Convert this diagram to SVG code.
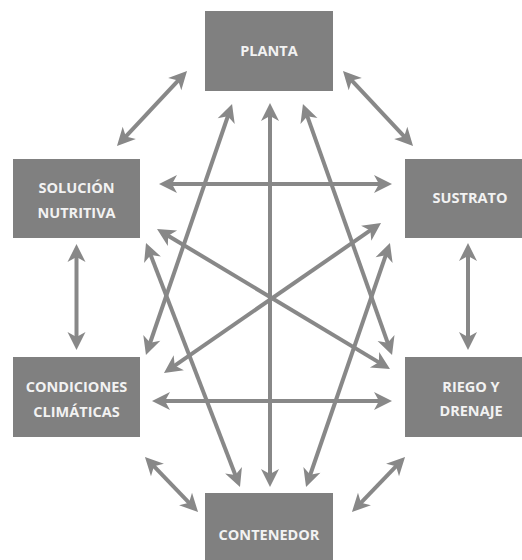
<svg xmlns="http://www.w3.org/2000/svg" width="522" height="560" viewBox="0 0 522 560">
<defs>
<marker id="ah" markerUnits="userSpaceOnUse" markerWidth="30" markerHeight="30" refX="0" refY="0" orient="auto-start-reverse" overflow="visible">
<path d="M10,0 L-8,-9 L-3,0 L-8,9 Z" fill="#888888"/>
</marker>
</defs>
<style>
.box{fill:#808080}
.lbl{font-family:"Open Sans","Liberation Sans",sans-serif;font-weight:bold;font-size:14.5px;fill:#f2f2f2;text-anchor:middle}
.c{stroke:#888888;stroke-width:4;fill:none;marker-start:url(#ah);marker-end:url(#ah)}
</style>
<rect width="522" height="560" fill="#ffffff"/>
<g id="connectors">
<line class="c" x1="180.2" y1="78.3" x2="123.8" y2="138.7"/>
<line class="c" x1="349.8" y1="78.3" x2="406.2" y2="138.7"/>
<line class="c" x1="76.5" y1="254" x2="76.5" y2="340"/>
<line class="c" x1="468" y1="253" x2="468" y2="340"/>
<line class="c" x1="151.9" y1="464.2" x2="191.1" y2="504.8"/>
<line class="c" x1="398.1" y1="464.2" x2="358.9" y2="504.8"/>
<line class="c" x1="169" y1="184" x2="382" y2="184"/>
<line class="c" x1="162" y1="401" x2="382" y2="401"/>
<line class="c" x1="270" y1="113" x2="270" y2="477"/>
<line class="c" x1="228.8" y1="113.5" x2="149.2" y2="345.5"/>
<line class="c" x1="306.3" y1="113.4" x2="388.7" y2="345.6"/>
<line class="c" x1="149.6" y1="252.3" x2="236.4" y2="477.7"/>
<line class="c" x1="386.7" y1="252.5" x2="309.3" y2="477.5"/>
<line class="c" x1="165.6" y1="234.2" x2="381.4" y2="363.9"/>
<line class="c" x1="372.8" y1="228.7" x2="172.2" y2="367.3"/>
</g>
<g id="planta">
<rect class="box" x="205" y="11" width="128" height="80"/>
<text class="lbl" x="269" y="56">PLANTA</text>
</g>
<g id="solucion">
<rect class="box" x="13" y="159" width="127" height="79"/>
<text class="lbl" x="76.5" y="193">SOLUCIÓN</text>
<text class="lbl" x="76.5" y="218">NUTRITIVA</text>
</g>
<g id="sustrato">
<rect class="box" x="405" y="159" width="128" height="79"/>
<text class="lbl" x="470" y="203">SUSTRATO</text>
</g>
<g id="condiciones">
<rect class="box" x="13" y="357" width="127" height="80"/>
<text class="lbl" x="76.5" y="392">CONDICIONES</text>
<text class="lbl" x="76.5" y="417">CLIMÁTICAS</text>
</g>
<g id="riego">
<rect class="box" x="405" y="357" width="128" height="80"/>
<text class="lbl" x="471" y="392">RIEGO Y</text>
<text class="lbl" x="471" y="416">DRENAJE</text>
</g>
<g id="contenedor">
<rect class="box" x="205" y="493" width="128" height="80"/>
<text class="lbl" x="269" y="540">CONTENEDOR</text>
</g>
</svg>
